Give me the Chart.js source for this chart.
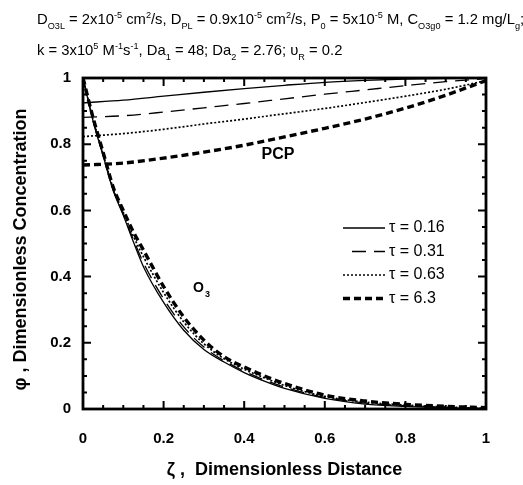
<!DOCTYPE html>
<html>
<head>
<meta charset="utf-8">
<script src="https://cdn.jsdelivr.net/npm/chart.js@4/dist/chart.umd.min.js"></script>
<style>
  html, body { margin: 0; padding: 0; background: #fff; }
  canvas { display: block; }
</style>
</head>
<body>
<canvas id="chart" width="523" height="485"></canvas>
<script>
// distance grids (zeta)
const pcpZeta = [0, 0.1, 0.2, 0.3, 0.4, 0.5, 0.6, 0.7, 0.8, 0.9, 1];
const o3Zeta = [0, 0.025, 0.05, 0.075, 0.1, 0.125, 0.15, 0.2, 0.25, 0.3, 0.35, 0.4, 0.45, 0.5, 0.6, 0.7, 0.8, 0.9, 1];

const tauLabels = ['0.16', '0.31', '0.63', '6.3'];

// PCP concentration, one array per tau
const pcpTau016 = [0.925, 0.933, 0.945, 0.957, 0.968, 0.978, 0.987, 0.993, 0.997, 0.999, 1.0];
const pcpTau031 = [0.881, 0.886, 0.897, 0.910, 0.923, 0.937, 0.951, 0.964, 0.977, 0.989, 0.998];
const pcpTau063 = [0.823, 0.832, 0.845, 0.861, 0.876, 0.892, 0.908, 0.926, 0.945, 0.966, 0.992];
const pcpTau63  = [0.737, 0.743, 0.758, 0.776, 0.797, 0.822, 0.848, 0.876, 0.909, 0.948, 0.992];

// O3 concentration, one array per tau
const o3Tau016 = [1.0, 0.870, 0.765, 0.660, 0.585, 0.505, 0.430, 0.322, 0.238, 0.180, 0.142, 0.110, 0.084, 0.062, 0.032, 0.015, 0.008, 0.004, 0.0];
const o3Tau031 = [1.0, 0.872, 0.767, 0.662, 0.588, 0.512, 0.442, 0.333, 0.248, 0.187, 0.146, 0.114, 0.088, 0.066, 0.035, 0.018, 0.010, 0.005, 0.001];
const o3Tau063 = [1.0, 0.876, 0.771, 0.666, 0.594, 0.522, 0.460, 0.352, 0.263, 0.197, 0.152, 0.120, 0.094, 0.071, 0.038, 0.021, 0.012, 0.006, 0.002];
const o3Tau63  = [1.0, 0.880, 0.775, 0.670, 0.600, 0.535, 0.480, 0.370, 0.278, 0.208, 0.158, 0.127, 0.100, 0.077, 0.042, 0.024, 0.014, 0.008, 0.004];

const pcpSeries = [pcpTau016, pcpTau031, pcpTau063, pcpTau63];
const o3Series = [o3Tau016, o3Tau031, o3Tau063, o3Tau63];

// line look per tau
const lineStyles = [
  { width: 1.3, dash: [] },
  { width: 1.3, dash: [14, 8] },
  { width: 1.7, dash: [2, 2] },
  { width: 3.4, dash: [7, 4] }
];

const SANS = '"Liberation Sans", Arial, Helvetica, sans-serif';

function toPoints(xs, ys) {
  return xs.map((x, i) => ({ x: x, y: ys[i] }));
}

const datasets = [];
pcpSeries.forEach((s, i) => {
  datasets.push({
    label: 'PCP τ = ' + tauLabels[i],
    data: toPoints(pcpZeta, s),
    borderColor: '#000',
    borderWidth: lineStyles[i].width,
    borderDash: lineStyles[i].dash,
    pointRadius: 0,
    cubicInterpolationMode: 'monotone',
    fill: false
  });
});
o3Series.forEach((s, i) => {
  datasets.push({
    label: 'O3 τ = ' + tauLabels[i],
    data: toPoints(o3Zeta, s),
    borderColor: '#000',
    borderWidth: lineStyles[i].width,
    borderDash: lineStyles[i].dash,
    pointRadius: 0,
    cubicInterpolationMode: 'monotone',
    fill: false
  });
});

// text with sub / superscripts: [text, '' | 'sub' | 'sup']
function drawRich(ctx, parts, x, y, size) {
  ctx.textBaseline = 'alphabetic';
  ctx.textAlign = 'left';
  parts.forEach(p => {
    let dy = 0, fs = size;
    if (p[1] === 'sub') { fs = size * 0.62; dy = size * 0.33; }
    if (p[1] === 'sup') { fs = size * 0.62; dy = -size * 0.42; }
    ctx.font = fs + 'px ' + SANS;
    ctx.fillText(p[0], x, y + dy);
    x += ctx.measureText(p[0]).width;
  });
}

const headerLine1 = [
  ['D', ''], ['O3L', 'sub'], [' = 2x10', ''], ['-5', 'sup'], [' cm', ''], ['2', 'sup'],
  ['/s, D', ''], ['PL', 'sub'], [' = 0.9x10', ''], ['-5', 'sup'], [' cm', ''], ['2', 'sup'],
  ['/s, P', ''], ['0', 'sub'], [' = 5x10', ''], ['-5', 'sup'], [' M, C', ''], ['O3g0', 'sub'],
  [' = 1.2 mg/L', ''], ['g', 'sub'], [';', '']
];
const headerLine2 = [
  ['k = 3x10', ''], ['5', 'sup'], [' M', ''], ['-1', 'sup'], ['s', ''], ['-1', 'sup'],
  [', Da', ''], ['1', 'sub'], [' = 48; Da', ''], ['2', 'sub'], [' = 2.76; υ', ''], ['R', 'sub'], [' = 0.2', '']
];

const frameTicks = {
  id: 'frameTicks',
  afterDatasetsDraw(chart) {
    const { ctx, chartArea: a, scales: { x, y } } = chart;
    ctx.save();
    ctx.strokeStyle = '#000';
    ctx.lineWidth = 2;
    ctx.setLineDash([]);
    for (let i = 0; i <= 20; i++) {
      const v = i * 0.05;
      const len = i % 4 === 0 ? 8 : 4;
      const px = x.getPixelForValue(v), py = y.getPixelForValue(v);
      ctx.beginPath();
      ctx.moveTo(px, a.bottom); ctx.lineTo(px, a.bottom - len);
      ctx.moveTo(px, a.top); ctx.lineTo(px, a.top + len);
      ctx.moveTo(a.left, py); ctx.lineTo(a.left + len, py);
      ctx.moveTo(a.right, py); ctx.lineTo(a.right - len, py);
      ctx.stroke();
    }
    ctx.lineWidth = 2.8;
    ctx.strokeRect(a.left, a.top, a.right - a.left, a.bottom - a.top);
    ctx.restore();
  }
};

const notes = {
  id: 'notes',
  afterDraw(chart) {
    const { ctx, chartArea: a, scales: { x, y } } = chart;
    ctx.save();
    ctx.fillStyle = '#000';

    // header
    drawRich(ctx, headerLine1, 37, 24, 14.8);
    drawRich(ctx, headerLine2, 37, 55, 14.8);

    // y axis title, drawn by hand so its centre can be placed
    ctx.save();
    ctx.translate(21, (a.top + a.bottom) / 2 + 6);
    ctx.rotate(-Math.PI / 2);
    ctx.font = 'bold 18px ' + SANS;
    ctx.textAlign = 'center';
    ctx.textBaseline = 'middle';
    ctx.fillText('φ , Dimensionless Concentration', 0, 0);
    ctx.restore();

    // curve labels
    ctx.font = 'bold 16px ' + SANS;
    ctx.textAlign = 'center';
    ctx.textBaseline = 'middle';
    ctx.fillText('PCP', x.getPixelForValue(0.484), y.getPixelForValue(0.77));
    ctx.textAlign = 'left';
    const ox = x.getPixelForValue(0.273), oy = y.getPixelForValue(0.366);
    ctx.font = 'bold 14px ' + SANS;
    ctx.fillText('O', ox, oy);
    const ow = ctx.measureText('O').width;
    ctx.font = 'bold 9px ' + SANS;
    ctx.fillText('3', ox + ow + 1, oy + 7);

    // legend
    const lx0 = a.left + 260, lx1 = a.left + 302;
    tauLabels.forEach((t, i) => {
      const ly = a.top + 150 + i * 23.5;
      ctx.beginPath();
      ctx.lineWidth = lineStyles[i].width;
      ctx.setLineDash(lineStyles[i].dash);
      ctx.moveTo(i === 1 ? lx0 + 9 : lx0, ly);
      ctx.lineTo(lx1, ly);
      ctx.stroke();
      ctx.setLineDash([]);
      ctx.font = '16px ' + SANS;
      ctx.textBaseline = 'middle';
      ctx.fillText('τ = ' + t, lx1 + 4, ly);
    });
    ctx.restore();
  }
};

const tickText = v => String(Math.round(v * 10) / 10);

new Chart(document.getElementById('chart'), {
  type: 'line',
  data: { datasets: datasets },
  options: {
    responsive: false,
    animation: false,
    layout: { padding: { top: 78, right: 37, left: 0, bottom: 0 } },
    plugins: { legend: { display: false }, tooltip: { enabled: false } },
    scales: {
      x: {
        type: 'linear',
        min: 0, max: 1,
        grid: { display: false, drawTicks: false },
        border: { display: false },
        ticks: { stepSize: 0.2, padding: 21, color: '#000', callback: tickText, font: { family: SANS, size: 15, weight: 'bold' } },
        title: {
          display: true, text: 'ζ ,  Dimensionless Distance', color: '#000',
          font: { family: SANS, size: 18, weight: 'bold' }, padding: { top: 0, bottom: 4 }
        },
        afterFit(scale) { scale.height = 76; }
      },
      y: {
        min: 0, max: 1,
        grid: { display: false, drawTicks: false },
        border: { display: false },
        ticks: { stepSize: 0.2, padding: 12, color: '#000', callback: tickText, font: { family: SANS, size: 15, weight: 'bold' } },
        title: { display: false },
        afterFit(scale) { scale.width = 83; }
      }
    }
  },
  plugins: [frameTicks, notes]
});
</script>
</body>
</html>
